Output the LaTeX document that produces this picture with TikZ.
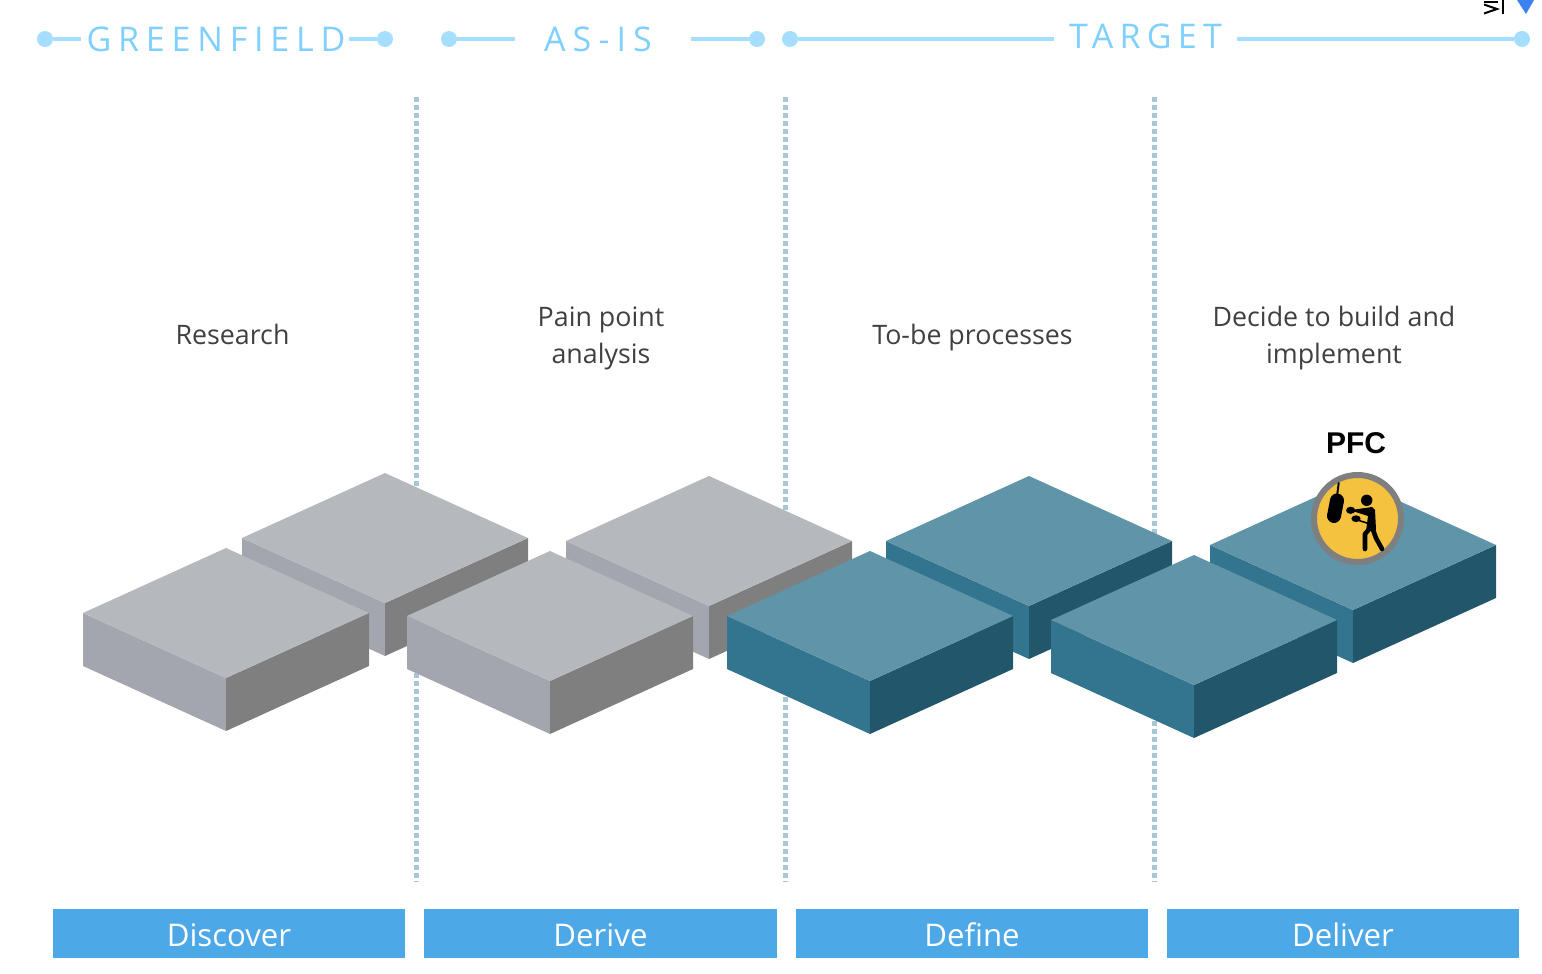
\documentclass[tikz,border=0pt]{standalone}
\usepackage{fontspec}
\setmainfont{Open Sans}
\newfontfamily\pfcfont{Liberation Sans}
\definecolor{tline}{HTML}{A6DEFF}
\definecolor{ttext}{HTML}{7FCFFF}
\definecolor{dotc}{HTML}{A9C7D6}
\definecolor{barc}{HTML}{4DA8E8}
\definecolor{gtop}{HTML}{B5B8BC}
\definecolor{gleft}{HTML}{A3A6AE}
\definecolor{gright}{HTML}{7F7F7F}
\definecolor{ttop}{HTML}{6094A9}
\definecolor{tleft}{HTML}{33758F}
\definecolor{tright}{HTML}{22566A}
\definecolor{txt}{HTML}{404040}
\definecolor{disc}{HTML}{F4C23F}
\definecolor{markblue}{HTML}{3B82F0}
\newcommand{\blockat}[4]{%
 \fill[#2] (#1-143,#3+65) -- (#1,#3+130) -- (#1,#3+183) -- (#1-143,#3+118) -- cycle;
 \fill[#4] (#1+143,#3+65) -- (#1,#3+130) -- (#1,#3+183) -- (#1+143,#3+118) -- cycle;
}
\newcommand{\gblock}[2]{\blockat{#1}{gleft}{#2}{gright}\fill[gtop] (#1,#2) -- (#1+143,#2+65) -- (#1,#2+130) -- (#1-143,#2+65) -- cycle;}
\newcommand{\tblock}[2]{\blockat{#1}{tleft}{#2}{tright}\fill[ttop] (#1,#2) -- (#1+143,#2+65) -- (#1,#2+130) -- (#1-143,#2+65) -- cycle;}
\tikzset{
  tl/.style={draw=tline,line width=2pt},
  tdot/.style={circle,fill=tline,minimum size=8pt,inner sep=0pt},
  head/.style={text=ttext,font=\fontsize{17}{20}\selectfont,inner sep=0pt},
  sep/.style={draw=dotc,line width=2.5pt,dash pattern=on 2.5pt off 1.5pt},
  bar/.style={fill=barc,text=white,minimum height=24.5pt,inner sep=0pt,font=\fontsize{15.6}{20}\selectfont,text width=#1,text height=16pt,text depth=3.5pt,align=center},
  lab/.style={text=txt,font=\fontsize{13.4}{18.5}\selectfont,align=center,inner sep=0pt},
  boxer/.style={line cap=round,line join=round,draw=black}
}
\begin{document}
\begin{tikzpicture}[x=0.5pt,y=-0.5pt]
\useasboundingbox (0,0) rectangle (1542,974);
% separators
\coordinate (s1a) at (416,97); \coordinate (s1b) at (416,882);
\coordinate (s2a) at (785,97); \coordinate (s2b) at (785,882);
\coordinate (s3a) at (1154,97); \coordinate (s3b) at (1154,882);
\draw[sep] (s1a) -- (s1b); \draw[sep] (s2a) -- (s2b); \draw[sep] (s3a) -- (s3b);
% timeline
\node[tdot] (g1) at (45,39) {}; \node[tdot] (g2) at (385,39) {};
\node[tdot] (a1) at (449,39) {}; \node[tdot] (a2) at (757,39) {};
\node[tdot] (t1) at (790,39) {}; \node[tdot] (t2) at (1522,39) {};
\coordinate (g1e) at (81,39); \coordinate (g2e) at (349,39);
\coordinate (a1e) at (515,39); \coordinate (a2e) at (691,39);
\coordinate (t1e) at (1054,39); \coordinate (t2e) at (1237,39);
\draw[tl] (g1) -- (g1e); \draw[tl] (g2) -- (g2e);
\draw[tl] (a1) -- (a1e); \draw[tl] (a2) -- (a2e);
\draw[tl] (t1) -- (t1e); \draw[tl] (t2) -- (t2e);
\node[head] (hg) at (216,39.5) {\addfontfeature{LetterSpace=20}GREENFIELD};
\node[head] (ha) at (598,39.5) {\addfontfeature{LetterSpace=21}AS-IS};
\node[head] (ht) at (1145.5,36.5) {\addfontfeature{LetterSpace=18.5}TARGET};
% labels
\node[lab] (l1) at (232.5,334) {Research};
\node[lab] (l2) at (601,338) {Pain point\\analysis};
\node[lab] (l3) at (972.5,338) {To-be processes};
\node[lab] (l4) at (1334,338) {Decide to build and\\implement};
% blocks
\gblock{385}{473}
\gblock{226}{548}
\gblock{709}{476}
\gblock{550}{551}
\tblock{1029}{476}
\tblock{870}{551}
\tblock{1353}{480}
\tblock{1194}{555}
% PFC
\node[font=\pfcfont\bfseries\fontsize{15}{20}\selectfont,inner sep=0pt] (pfc) at (1356,443.5) {PFC};
\node[circle,fill=disc,draw=gright,line width=3pt,minimum size=43.5pt,inner sep=0pt] (badge) at (1357.5,518.5) {};
% boxer
\draw[boxer,line width=7pt] (1337,500.5) -- (1334,516);
\draw[boxer,line width=1pt] (1338.7,483) -- (1337.3,494);
\fill[black] (1366.7,500.3) circle[radius=5.7];
\fill[black] (1350.7,510.3) ellipse[x radius=4.6,y radius=3.6];
\fill[black] (1356,518.7) ellipse[x radius=4.6,y radius=3.4];
\fill[black] (1354,509.6) -- (1372,507) -- (1375,510) -- (1376,530) -- (1366,531) -- (1368,516) -- (1354,511.5) -- cycle;
\draw[boxer,line width=0.8pt] (1359,520.5) -- (1367,523);
\draw[boxer,line width=2.3pt] (1371,527) -- (1365,534) -- (1365,549);
\draw[boxer,line width=2.3pt] (1372,527) -- (1376,538) -- (1382,549);
% top right remnant
\draw[black,line width=1pt] (1503,0) -- (1503,14);
\draw[black,line width=1pt] (1484,2) -- (1498,2);
\draw[black,line width=1pt] (1484,4.5) -- (1497,9) -- (1484,13.5);
\fill[markblue] (1517,0) -- (1534,0) -- (1526,14) -- cycle;
% bars
\node[bar=176pt] (b1) at (229,933.5) {Discover};
\node[bar=176.5pt] (b2) at (600.5,933.5) {Derive};
\node[bar=176pt] (b3) at (972,933.5) {Define};
\node[bar=176pt] (b4) at (1343,933.5) {Deliver};
\end{tikzpicture}
\end{document}
